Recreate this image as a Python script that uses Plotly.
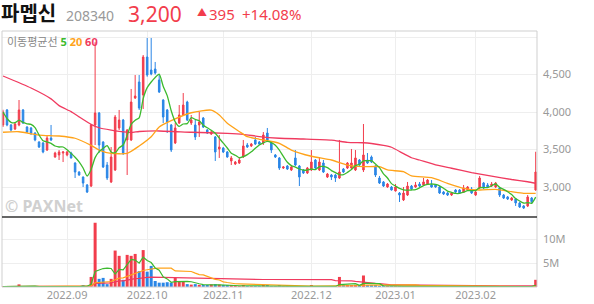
import pandas as pd
import plotly.graph_objects as go

# ---------------- data ----------------
holidays = ["2022-08-15", "2022-09-09", "2022-09-12", "2022-10-03", "2022-10-10",
            "2022-12-30", "2023-01-23", "2023-01-24"]
dates = [d.strftime("%Y-%m-%d") for d in pd.bdate_range("2022-08-09", "2023-02-22")
         if d.strftime("%Y-%m-%d") not in holidays]

opens = [3827, 4027, 3827, 3773, 3827, 4027, 3800, 3787, 3720, 3600, 3587, 3493, 3653, 3400, 3427, 3453, 3427, 3453, 3320, 3200,
         3133, 3027, 3013, 3827, 3987, 3600, 3293, 3067, 3227, 3787, 3893, 3627, 3627, 4187, 4400, 4227, 4733, 4560, 4573, 4427,
         4160, 4027, 3827, 3587, 3853, 3960, 4133, 3853, 3827, 3827, 3920, 3760, 3707, 3667, 3507, 3520, 3467, 3347, 3307, 3320,
         3400, 3560, 3547, 3627, 3600, 3587, 3720, 3587, 3427, 3387, 3253, 3280, 3227, 3387, 3280, 3227, 3187, 3227, 3360, 3227,
         3320, 3133, 3160, 3160, 3120, 3240, 3253, 3253, 3227, 3360, 3227, 3360, 3400, 3280, 3120, 3067, 3000, 3000, 2947, 2920,
         2827, 2893, 3013, 3000, 3040, 3027, 3040, 3027, 3027, 3000, 2933, 2920, 2893, 2960, 2960, 2933, 2960, 2973, 2893, 2987,
         3053, 3027, 3013, 3000, 2987, 2893, 2867, 2827, 2840, 2787, 2747, 2747, 2853, 2960]
highs = [4030, 4040, 3840, 3860, 4160, 4040, 3810, 3800, 3730, 3610, 3600, 3693, 3827, 3470, 3493, 3480, 3480, 3470, 3330, 3210,
         3140, 3040, 3840, 4930, 4000, 3610, 3333, 3533, 3960, 4027, 3907, 3773, 4307, 4493, 4493, 4760, 4987, 4987, 4667, 4493,
         4170, 4040, 3840, 3853, 4093, 4253, 4150, 3960, 3893, 4000, 3933, 3773, 3760, 3680, 3693, 3533, 3480, 3413, 3347, 3400,
         3627, 3587, 3587, 3667, 3613, 3733, 3787, 3600, 3440, 3400, 3280, 3293, 3293, 3493, 3293, 3240, 3267, 3493, 3373, 3400,
         3360, 3187, 3173, 3173, 3627, 3253, 3333, 3507, 3493, 3373, 3840, 3453, 3420, 3290, 3147, 3080, 3053, 3013, 3040, 2933,
         3000, 3067, 3027, 3067, 3067, 3120, 3107, 3093, 3040, 3013, 2947, 2933, 2933, 2973, 2973, 3027, 3013, 3000, 2947, 3147,
         3067, 3053, 3067, 3067, 3000, 2907, 2880, 2867, 2853, 2800, 2760, 2893, 2867, 3470]
lows = [3800, 3810, 3740, 3760, 3810, 3840, 3720, 3693, 3610, 3520, 3450, 3480, 3613, 3390, 3360, 3333, 3410, 3380, 3120, 3150,
        3000, 2920, 3000, 3560, 3453, 3253, 3093, 3053, 3213, 3760, 3427, 3160, 3613, 4173, 4027, 4040, 4470, 4490, 4500, 4253,
        3853, 3720, 3467, 3573, 3840, 3947, 3880, 3827, 3627, 3667, 3787, 3707, 3693, 3347, 3387, 3453, 3390, 3293, 3293, 3307,
        3387, 3520, 3533, 3560, 3560, 3560, 3613, 3453, 3387, 3227, 3240, 3227, 3213, 3280, 3013, 3173, 3173, 3213, 3240, 3213,
        3187, 3120, 3093, 3067, 3107, 3187, 3240, 3240, 3213, 3280, 3200, 3307, 3320, 3133, 3040, 3000, 2990, 2953, 2940, 2800,
        2813, 2880, 2960, 2990, 3000, 3013, 3030, 2990, 2990, 2907, 2893, 2880, 2880, 2920, 2907, 2920, 2947, 2907, 2880, 2973,
        2973, 2987, 3000, 2987, 2867, 2840, 2827, 2813, 2747, 2720, 2707, 2733, 2787, 2950]
closes = [4000, 3827, 3760, 3840, 4027, 3853, 3733, 3720, 3627, 3533, 3467, 3653, 3627, 3453, 3467, 3467, 3467, 3387, 3200, 3160,
          3053, 2933, 3827, 3987, 3560, 3267, 3120, 3400, 3933, 3893, 3453, 3760, 4133, 4213, 4053, 4733, 4493, 4507, 4520, 4267,
          3933, 3867, 3493, 3787, 3960, 4093, 3893, 3893, 3667, 3867, 3800, 3720, 3733, 3467, 3533, 3467, 3400, 3387, 3333, 3360,
          3547, 3533, 3573, 3573, 3573, 3693, 3627, 3493, 3400, 3253, 3267, 3240, 3267, 3293, 3133, 3187, 3253, 3333, 3253, 3333,
          3200, 3173, 3133, 3120, 3200, 3200, 3320, 3320, 3387, 3293, 3427, 3320, 3333, 3160, 3053, 3013, 3040, 2960, 3000, 2893,
          2920, 3013, 2973, 3027, 3013, 3067, 3093, 3000, 3000, 2920, 2907, 2893, 2920, 2933, 2920, 2987, 3000, 2920, 2933, 3120,
          2987, 3000, 3040, 3053, 2893, 2853, 2840, 2853, 2787, 2733, 2720, 2867, 2805, 3200]
volumes_m = [0.08, 0.12, 0.06, 0.07, 0.55, 0.1, 0.06, 0.05, 0.07, 0.08, 0.06, 0.1, 0.12, 0.05, 0.06, 0.05, 0.05, 0.06, 0.1, 0.08,
             0.4, 0.15, 2.1, 13.4, 1.7, 1.9, 0.6, 1.7, 7.6, 6.5, 1.5, 6.7, 6.5, 6.9, 3.3, 7.7, 3.2, 4.4, 1.25, 0.9,
             0.9, 1.0, 0.9, 1.9, 1.25, 1.25, 0.6, 0.5, 0.6, 0.45, 0.35, 0.3, 0.55, 0.6, 0.5, 0.3, 0.25, 0.3, 0.2, 0.2,
             0.4, 0.2, 0.15, 0.2, 0.15, 0.3, 0.25, 0.2, 0.15, 0.25, 0.1, 0.1, 0.12, 0.15, 0.2, 0.1, 0.12, 0.4, 0.12, 0.15,
             0.12, 0.1, 0.1, 0.12, 2.1, 0.35, 0.3, 0.35, 0.45, 0.3, 2.4, 0.35, 0.3, 0.25, 0.2, 0.15, 0.12, 0.1, 0.12, 0.2,
             0.15, 0.15, 0.1, 0.1, 0.08, 0.12, 0.1, 0.08, 0.08, 0.1, 0.08, 0.08, 0.07, 0.06, 0.07, 0.08, 0.07, 0.07, 0.07, 0.15,
             0.08, 0.06, 0.06, 0.07, 0.1, 0.08, 0.06, 0.06, 0.1, 0.09, 0.08, 0.1, 0.08, 1.5]

# moving averages (they need history before the window)
ma20_idx = [0, 4, 9, 14, 18, 22, 24, 27, 31, 34, 37, 39, 42, 47, 52, 54, 56, 59, 61, 64, 69, 72, 77, 82, 86, 90,
            94, 96, 100, 102, 107, 111, 115, 119, 123, 127, 130, 133]
ma20_val = [3730, 3737, 3693, 3680, 3650, 3555, 3493, 3449, 3449, 3547, 3670, 3800, 3884, 3990, 4025, 3960, 3850,
            3740, 3671, 3636, 3583, 3493, 3410, 3360, 3293, 3271, 3271, 3227, 3204, 3147, 3124, 3049, 2983, 2960,
            2969, 2938, 2916, 2916]
ma60_idx = [0, 7, 12, 14, 17, 19, 22, 24, 27, 29, 32, 34, 39, 47, 56, 60, 64, 69, 75, 82, 86, 90, 92, 95, 97,
            100, 102, 104, 108, 112, 117, 122, 127, 131, 133]
ma60_val = [4480, 4320, 4175, 4085, 4005, 3935, 3835, 3790, 3758, 3742, 3727, 3740, 3747, 3730, 3716, 3703, 3672,
            3650, 3640, 3625, 3596, 3590, 3580, 3555, 3530, 3445, 3390, 3360, 3295, 3250, 3193, 3145, 3100, 3070, 3050]

month_ticks = ["2022-09-01", "2022-10-04", "2022-11-01", "2022-12-01", "2023-01-02", "2023-02-01"]
month_labels = ["2022.09", "2022.10", "2022.11", "2022.12", "2023.01", "2023.02"]
price_ticks = [3000, 3500, 4000, 4500, 5000]
price_labels = ["3,000", "3,500", "4,000", "4,500", ""]
vol_ticks = [5e6, 10e6]
vol_labels = ["5M", "10M"]

# ---------------- styling ----------------
RED = "#f23d4c"
BLUE = "#2a86e6"
GREEN = "#3cba2e"
ORANGE = "#ffa31a"
PINK = "#f03a5f"
FONT = "Noto Sans, Noto Sans CJK KR, sans-serif"

W, H = 594, 304
L, R, T, B = 2, 57, 31, 17
PW, PH = W - L - R, H - T - B
VOL_TOP = 217
vol_frac = (H - B - VOL_TOP) / PH


def px(xp):
    return (xp - L) / PW


def py(yp):
    return (H - B - yp) / PH


df = pd.DataFrame({"date": dates, "o": opens, "h": highs, "l": lows, "c": closes,
                   "v": [v * 1e6 for v in volumes_m]})
df["ma5"] = df["c"].rolling(5, min_periods=1).mean()
df["v5"] = df["v"].rolling(5, min_periods=1).mean()
df["v20"] = df["v"].rolling(20, min_periods=1).mean()
df["v60"] = df["v"].rolling(60, min_periods=1).mean()
vol_colors = [RED if c >= o else BLUE for o, c in zip(df["o"], df["c"])]

fig = go.Figure()

fig.add_trace(go.Candlestick(x=df["date"], open=df["o"], high=df["h"], low=df["l"], close=df["c"],
                             increasing=dict(line=dict(color=RED, width=1), fillcolor=RED),
                             decreasing=dict(line=dict(color=BLUE, width=1), fillcolor=BLUE),
                             whiskerwidth=0, xaxis="x", yaxis="y"))
fig.add_trace(go.Scatter(x=[dates[i] for i in ma60_idx], y=ma60_val, mode="lines",
                         line=dict(color=PINK, width=1.3, shape="spline", smoothing=0.5),
                         xaxis="x", yaxis="y", hoverinfo="skip"))
fig.add_trace(go.Scatter(x=[dates[i] for i in ma20_idx], y=ma20_val, mode="lines",
                         line=dict(color=ORANGE, width=1.3, shape="spline", smoothing=0.6),
                         xaxis="x", yaxis="y", hoverinfo="skip"))
fig.add_trace(go.Scatter(x=df["date"], y=df["ma5"], mode="lines",
                         line=dict(color=GREEN, width=1.3, shape="spline", smoothing=0.6),
                         xaxis="x", yaxis="y", hoverinfo="skip"))

fig.add_trace(go.Bar(x=df["date"], y=df["v"], marker=dict(color=vol_colors, line=dict(width=0)),
                     xaxis="x", yaxis="y2"))
for col, colr in (("v60", PINK), ("v20", ORANGE), ("v5", GREEN)):
    fig.add_trace(go.Scatter(x=df["date"], y=df[col], mode="lines", line=dict(color=colr, width=1.2),
                             xaxis="x", yaxis="y2", hoverinfo="skip"))

fig.update_layout(
    width=W, height=H, margin=dict(l=L, r=R, t=T, b=B),
    paper_bgcolor="white", plot_bgcolor="white", showlegend=False,
    bargap=0.25, boxgap=0.45,
    font=dict(family=FONT, color="#999", size=11),
    xaxis=dict(type="category", categoryorder="array", categoryarray=dates,
               range=[-0.25, len(dates) - 0.67], anchor="y2",
               tickvals=month_ticks, ticktext=month_labels, showgrid=True, gridcolor="#eeeeee",
               gridwidth=1, ticks="", tickfont=dict(size=11, color="#999"), showline=False,
               zeroline=False, rangeslider=dict(visible=False), fixedrange=True),
    yaxis=dict(domain=[vol_frac, 1], range=[2600, 5080], side="right", tickvals=price_ticks,
               ticktext=price_labels, showgrid=True, gridcolor="#eeeeee", zeroline=False,
               ticks="", ticklabelstandoff=5, tickfont=dict(size=11, color="#999"), showline=False),
    yaxis2=dict(domain=[0, vol_frac], range=[0, 14.6e6], side="right", tickvals=vol_ticks,
                ticktext=vol_labels, showgrid=True, gridcolor="#eeeeee", zeroline=False,
                ticks="", ticklabelstandoff=5, tickfont=dict(size=11, color="#999"), showline=False),
    shapes=[
        dict(type="rect", xref="paper", yref="paper", x0=0, x1=1, y0=0, y1=1,
             line=dict(color="#cfcfcf", width=1), layer="above"),
        dict(type="line", xref="paper", yref="paper", x0=0, x1=1, y0=vol_frac, y1=vol_frac,
             line=dict(color="#333333", width=1.5), layer="above"),
    ],
)

ann = [
    dict(text="<b>파멥신</b>", x=px(0), y=py(13), font=dict(size=20, color="#111")),
    dict(text="208340", x=px(65), y=py(15), font=dict(size=14, color="#999")),
    dict(text="3,200", x=px(127), y=py(14), font=dict(size=21, color=RED)),
    dict(text="▲", x=px(196), y=py(12), font=dict(size=10, color=RED)),
    dict(text="395", x=px(208), y=py(14), font=dict(size=15, color=RED)),
    dict(text="+14.08%", x=px(241), y=py(14), font=dict(size=15, color=RED)),
    dict(text=("이동평균선 <b><span style='color:%s'>5</span> <span style='color:%s'>20</span> "
               "<span style='color:%s'>60</span></b>") % (GREEN, ORANGE, PINK),
         x=px(6), y=py(41), font=dict(size=11, color="#888")),
    dict(text="<b>© PAXNet</b>", x=px(4), y=py(206), font=dict(size=16, color="#d0d0d0")),
]
for a in ann:
    fig.add_annotation(xref="paper", yref="paper", xanchor="left", yanchor="middle",
                       showarrow=False, borderpad=0, **a)

fig.write_html("out.html")
